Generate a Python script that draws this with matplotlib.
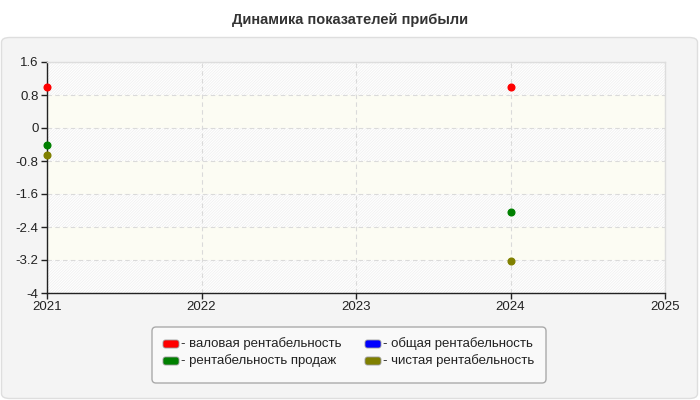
import matplotlib
matplotlib.use("Agg")
import matplotlib.pyplot as plt
from matplotlib.patches import FancyBboxPatch, Rectangle
import numpy as np

plt.rcParams['font.family'] = ['Liberation Sans', 'DejaVu Sans']
plt.rcParams['hatch.linewidth'] = 0.5

title = "Динамика показателей прибыли"
years = [2021, 2022, 2023, 2024]
series_names = ["- валовая рентабельность", "- общая рентабельность",
                "- рентабельность продаж", "- чистая рентабельность"]
series_colors = ["#ff0000", "#0000ff", "#008000", "#808000"]
gross = [1.0, np.nan, np.nan, 1.0]
total = [np.nan, np.nan, np.nan, np.nan]
sales = [-0.42, np.nan, np.nan, -2.04]
net = [-0.66, np.nan, np.nan, -3.23]
xticks = [2021, 2022, 2023, 2024, 2025]
yticks = [1.6, 0.8, 0, -0.8, -1.6, -2.4, -3.2, -4]
ytick_labels = ["1.6", "0.8", "0", "-0.8", "-1.6", "-2.4", "-3.2", "-4"]

fig = plt.figure(figsize=(7, 4), dpi=100)
fig.patch.set_facecolor("white")

# outer panel
panel = FancyBboxPatch((1.5 / 700, 1.5 / 400), 696 / 700, 361 / 400,
                       boxstyle="round,pad=0,rounding_size=0.012",
                       transform=fig.transFigure, facecolor="#f4f4f4",
                       edgecolor="#dedede", linewidth=1, zorder=-10)
fig.patches.append(panel)

fig.text(0.5, 1 - 20 / 400, title, ha="center", va="center",
         fontsize=10.5, fontweight="bold", color="#333333")

ax = fig.add_axes([47 / 700, 1 - 293 / 400, (665 - 47) / 700, (293 - 62) / 400])
ax.set_zorder(1)
ax.set_facecolor("white")
ax.set_xlim(2021, 2025)
ax.set_ylim(-4, 1.6)

# alternating bands
for i in range(len(yticks) - 1):
    top, bot = yticks[i], yticks[i + 1]
    if i % 2 == 0:
        ax.add_patch(Rectangle((2021, bot), 4, top - bot, facecolor="white",
                               edgecolor="#eeeeee", hatch="/" * 12, linewidth=0, zorder=0))
    else:
        ax.add_patch(Rectangle((2021, bot), 4, top - bot, facecolor="#fcfcf3",
                               edgecolor="none", linewidth=0, zorder=0))

ax.set_xticks(xticks)
ax.set_xticklabels([str(x) for x in xticks])
ax.set_yticks(yticks)
ax.set_yticklabels(ytick_labels)
ax.grid(True, color="#dadada", linestyle=(0, (4, 3)), linewidth=0.8, zorder=1)
ax.tick_params(axis="both", labelsize=9.5, colors="#222222", length=4, width=1)
ax.tick_params(axis="y", pad=2)
ax.tick_params(axis="x", pad=2)
for s in ["left", "bottom"]:
    ax.spines[s].set_color("#222222")
    ax.spines[s].set_linewidth(1)
for s in ["top", "right"]:
    ax.spines[s].set_color("#dddddd")
    ax.spines[s].set_linewidth(1)

for vals, col in zip([gross, total, sales, net], series_colors):
    ax.plot(years, vals, linestyle="none", marker="o", markersize=4.8,
            color=col, clip_on=False, zorder=5)

# legend
lax = fig.add_axes([0, 0, 1, 1])
lax.set_zorder(2)
lax.set_xlim(0, 700)
lax.set_ylim(400, 0)
lax.axis("off")
lax.add_patch(FancyBboxPatch((152, 327), 394, 56,
                             boxstyle="round,pad=0,rounding_size=4",
                             facecolor="#f9f9f9", edgecolor="#aaaaaa", linewidth=1))
pos = [(163, 344), (365, 344), (163, 361), (365, 361)]
order = [0, 1, 2, 3]
for (x, y), idx, name in zip(pos, order, series_names):
    lax.add_patch(FancyBboxPatch((x, y - 4), 16, 8,
                                 boxstyle="round,pad=0,rounding_size=2.5",
                                 facecolor=series_colors[idx], edgecolor="#999999",
                                 linewidth=0.6))
    lax.text(x + 18, y, name, va="center", ha="left", fontsize=9.5, color="#222222")

fig.savefig("out.png", dpi=100)
